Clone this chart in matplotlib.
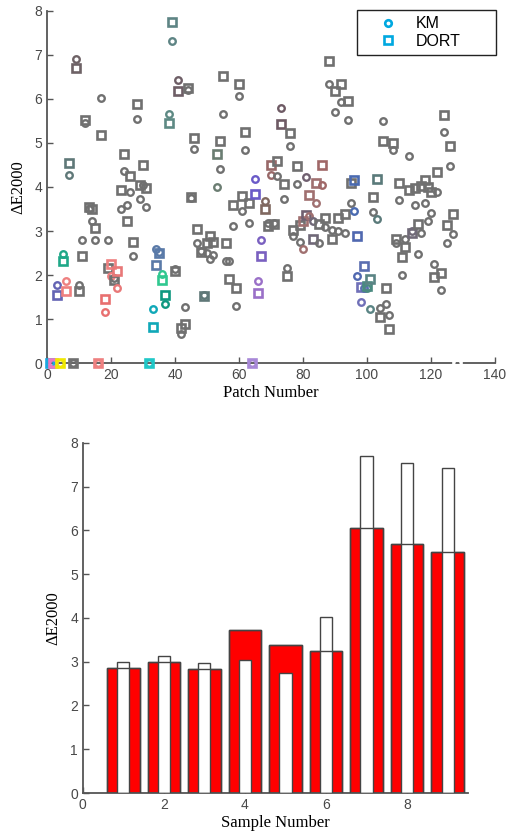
import matplotlib
matplotlib.use("Agg")
import matplotlib.pyplot as plt
from matplotlib.lines import Line2D

# ---------------- data: top panel (colour difference per patch) ----------------
patch_numbers = list(range(1, 129))

km_values = [
    0, 0, 1.77, 0, 2.47, 1.86, 4.28, 0, 6.91, 1.77,
    2.79, 5.45, 3.50, 3.23, 2.79, 0, 6.02, 1.17, 2.79, 1.98,
    1.93, 1.70, 3.49, 4.37, 3.58, 3.89, 2.44, 5.55, 3.73, 4.05,
    3.55, 0, 1.23, 2.59, 2.52, 2.02, 1.35, 5.65, 7.32, 2.14,
    6.42, 0.66, 1.27, 6.20, 3.74, 4.86, 2.73, 2.55, 1.55, 2.49,
    2.36, 2.45, 4.01, 4.41, 5.66, 2.33, 2.33, 3.11, 1.29, 6.07,
    3.45, 4.84, 3.19, 0, 4.18, 1.87, 2.80, 3.68, 3.19, 4.27,
    3.19, 4.26, 5.80, 3.73, 2.15, 4.94, 2.89, 4.07, 2.76, 2.60,
    4.22, 3.33, 3.22, 3.63, 2.73, 4.04, 3.10, 6.34, 3.02, 5.70,
    2.99, 5.94, 2.96, 5.51, 3.63, 3.46, 1.98, 1.39, 1.70, 1.70,
    1.24, 3.44, 3.27, 1.26, 5.49, 1.35, 1.09, 4.83, 2.72, 3.70,
    2.01, 2.81, 4.70, 3.00, 3.60, 2.48, 2.95, 3.64, 3.23, 3.42,
    2.25, 3.89, 1.66, 5.24, 2.72, 4.48, 2.93, 0,
]

dort_values = [
    0, 0, 1.54, 0, 2.32, 1.64, 4.55, 0, 6.70, 1.64,
    2.44, 5.52, 3.54, 3.51, 3.06, 0, 5.17, 1.45, 2.17, 2.25,
    1.89, 2.09, 3.92, 4.74, 3.23, 4.26, 2.74, 5.88, 4.05, 4.51,
    3.97, 0, 0.83, 2.22, 2.49, 1.89, 1.54, 5.46, 7.74, 2.10,
    6.17, 0.79, 0.90, 6.24, 3.78, 5.11, 3.05, 2.53, 1.52, 2.72,
    2.89, 2.76, 4.74, 5.05, 6.53, 2.72, 1.92, 3.59, 1.70, 6.34,
    3.80, 5.24, 3.63, 0, 3.84, 1.60, 2.44, 3.49, 3.12, 4.51,
    3.15, 4.60, 5.44, 4.07, 1.98, 5.23, 3.02, 4.48, 3.14, 3.23,
    3.36, 3.82, 2.83, 4.10, 3.16, 4.51, 3.29, 6.85, 2.83, 6.17,
    3.29, 6.34, 3.39, 5.96, 4.08, 4.16, 2.89, 1.73, 2.20, 1.76,
    1.90, 3.78, 4.19, 1.05, 5.05, 1.71, 0.78, 4.99, 2.83, 4.08,
    2.42, 2.63, 3.93, 2.96, 3.97, 3.15, 4.02, 4.16, 3.99, 3.89,
    1.95, 4.35, 2.04, 5.64, 3.14, 4.92, 3.38, 0,
]

# patch colours (everything else is drawn grey)
patch_colors = {
    1: "#1aa8e0", 2: "#e878c0", 3: "#6464b4", 4: "#f0e800", 5: "#1fa888",
    6: "#ee8080", 7: "#5f7878", 9: "#6e6266", 16: "#ee8080", 18: "#e87070",
    20: "#ee8080", 22: "#e87878", 32: "#20c8c8", 33: "#10a8b8", 34: "#5a7aa8",
    35: "#5a7aa8", 36: "#30c890", 37: "#109880", 38: "#5e8a84", 39: "#5e8484",
    41: "#6e5e66", 49: "#607878", 53: "#6b7d72", 64: "#a888d8", 65: "#6a5ac8",
    66: "#9a70c8", 67: "#7a60c0", 68: "#806860", 70: "#986868", 73: "#6e5a64",
    80: "#a07070", 81: "#706070", 82: "#a07070", 83: "#706878", 84: "#a07070",
    86: "#a06868", 96: "#4a6ab0", 97: "#5068b0", 98: "#7070b8", 99: "#5a6eb0",
    100: "#4a8a80", 101: "#5a8484", 103: "#5a7a7a", 114: "#706a78", 128: "#ffffff",
}
DEFAULT_COLOR = "#707070"

# ---------------- data: bottom panel ----------------
sample_numbers = [1, 2, 3, 4, 5, 6, 7, 8, 9]
red_values = [2.86, 3.00, 2.83, 3.73, 3.39, 3.25, 6.05, 5.70, 5.50]
white_values = [2.99, 3.12, 2.96, 3.03, 2.75, 4.03, 7.69, 7.53, 7.43]

SANS = ["Liberation Sans", "DejaVu Sans"]
SERIF = ["Liberation Serif", "DejaVu Serif"]
AXIS_COLOR = "#555555"
TICK_COLOR = "#484848"


def style_axes(ax):
    for side in ("top", "right"):
        ax.spines[side].set_visible(False)
    for side in ("left", "bottom"):
        ax.spines[side].set_color(AXIS_COLOR)
        ax.spines[side].set_linewidth(1.3)
    ax.tick_params(direction="in", length=4, width=1, color=AXIS_COLOR,
                   labelcolor=TICK_COLOR, labelsize=10)
    for lab in ax.get_xticklabels() + ax.get_yticklabels():
        lab.set_family(SANS)


fig = plt.figure(figsize=(5.08, 8.31), dpi=100)

# ---- top: scatter of KM / DORT per patch ----
ax1 = fig.add_axes([0.0925, 0.563, 0.882, 0.424])
for p, k, d in zip(patch_numbers, km_values, dort_values):
    c = patch_colors.get(p, DEFAULT_COLOR)
    ax1.plot(p, d, ls="none", marker="s", ms=5.6, mfc="none", mec=c,
             mew=1.9, clip_on=False, zorder=3)
    ax1.plot(p, k, ls="none", marker="o", ms=4.7, mfc="none", mec=c,
             mew=1.7, clip_on=False, zorder=3)

ax1.set_xlim(0, 140)
ax1.set_ylim(0, 8)
ax1.set_xticks(range(0, 141, 20))
ax1.set_yticks(range(0, 9))
style_axes(ax1)
ax1.set_xlabel("Patch Number", family=SERIF, fontsize=12, labelpad=2)
ax1.set_ylabel("\u0394E2000", family=SERIF, fontsize=12, labelpad=6)

legend_handles = [
    Line2D([], [], ls="none", marker="o", ms=4.7, mfc="none", mec="#00a8e0", mew=1.9),
    Line2D([], [], ls="none", marker="s", ms=5.6, mfc="none", mec="#00a8e0", mew=1.9),
]
leg = ax1.legend(legend_handles, ["KM", "DORT"], loc="upper right",
                 bbox_to_anchor=(0.692, 0.88, 0.31, 0.122), mode="expand",
                 borderaxespad=0, handlelength=3.1, handletextpad=0.2,
                 labelspacing=0.15, fancybox=False, framealpha=1,
                 edgecolor="#222222", prop={"family": SANS, "size": 11.5})
leg.get_frame().set_linewidth(1.0)

# ---- bottom: bar chart ----
ax2 = fig.add_axes([0.163, 0.0457, 0.758, 0.4213])
edge = "#444444"
ax2.bar(sample_numbers, red_values, width=0.8, color="#ff0000",
        edgecolor=edge, linewidth=1.0, zorder=2)
ax2.bar(sample_numbers, white_values, width=0.3, color="white",
        edgecolor=edge, linewidth=1.0, zorder=3)
ax2.bar(sample_numbers, red_values, width=0.8, fill=False,
        edgecolor=edge, linewidth=1.0, zorder=4)

ax2.set_xlim(0, 9.5)
ax2.set_ylim(0, 8)
ax2.set_xticks([0, 2, 4, 6, 8])
ax2.set_yticks(range(0, 9))
style_axes(ax2)
ax2.set_xlabel("Sample Number", family=SERIF, fontsize=12, labelpad=2)
ax2.set_ylabel("\u0394E2000", family=SERIF, fontsize=12, labelpad=6)

fig.savefig("out.png", dpi=100)
